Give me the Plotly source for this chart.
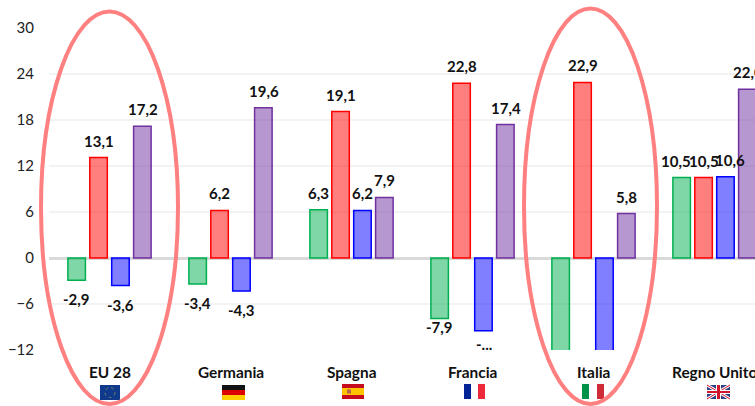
import plotly.graph_objects as go

countries = ["EU 28", "Germania", "Spagna", "Francia", "Italia", "Regno Unito"]
green = [-2.9, -3.4, 6.3, -7.9, -15.0, 10.5]
red = [13.1, 6.2, 19.1, 22.8, 22.9, 10.5]
blue = [-3.6, -4.3, 6.2, -9.5, -14.0, 10.6]
purple = [17.2, 19.6, 7.9, 17.4, 5.8, 22.0]
y_ticks = [-12, -6, 0, 6, 12, 18, 24, 30]

W, H = 755, 406
L, T, R_PX, B_PX = 49, 28, 755, 350
GROUP_PX = 121.0
BAR_STEP = 22 / GROUP_PX


def px(x):
    return (x - L) / (R_PX - L)


def py(y):
    return (B_PX - y) / (B_PX - T)


def label(v):
    return f"{v:.1f}".replace(".", ",")


series = [
    (green, "rgba(0,176,80,0.5)", "#00b050"),
    (red, "rgba(255,0,0,0.5)", "#ff0000"),
    (blue, "rgba(0,0,255,0.5)", "#0000ff"),
    (purple, "rgba(112,48,160,0.5)", "#7030a0"),
]

fig = go.Figure()
annotations = []
for s, (vals, fill, line) in enumerate(series):
    xpos = list(range(len(countries)))
    fig.add_trace(go.Bar(x=xpos, y=vals, marker=dict(color=fill, line=dict(color=line, width=1.5)),
                         hoverinfo="skip", showlegend=False))
    for i, v in enumerate(vals):
        if v < y_ticks[0]:
            continue
        text = label(v)
        dy = -17 if v > 0 else 19
        dx = 0
        if (i, s) == (3, 0):
            dy = 8
        if (i, s) == (3, 2):
            text, dy = "-...", 13
        if (i, s) == (5, 0):
            dx = -6
        if (i, s) == (5, 2):
            dx = 4
        annotations.append(dict(
            x=i + (s - 1.5) * BAR_STEP, y=v, xref="x", yref="y", text=f"<b>{text}</b>", showarrow=False,
            xshift=dx, yshift=-dy, font=dict(family="Lato", size=15, color="#111111"),
            xanchor="center", yanchor="middle"))

for i, c in enumerate(countries):
    annotations.append(dict(x=i, y=py(372), xref="x", yref="paper", text=f"<b>{c}</b>", showarrow=False,
                            font=dict(family="Lato", size=15.4, color="#111111"),
                            xanchor="center", yanchor="middle"))

shapes = []


def rect(x0, y0, x1, y1, color):
    shapes.append(dict(type="rect", xref="paper", yref="paper", x0=px(x0), x1=px(x1), y0=py(y0), y1=py(y1),
                       fillcolor=color, line=dict(width=0), layer="above"))


def seg(x0, y0, x1, y1, color, w):
    shapes.append(dict(type="line", xref="paper", yref="paper", x0=px(x0), x1=px(x1), y0=py(y0), y1=py(y1),
                       line=dict(color=color, width=w), layer="above"))


# flags
rect(100, 385, 120, 400, "#0f3a8c")
shapes.append(dict(type="circle", xref="paper", yref="paper", x0=px(105), x1=px(115), y0=py(387.5), y1=py(397.5),
                   line=dict(color="#6f7f6a", width=1, dash="dot"), layer="above"))
rect(222, 385, 245, 390, "#111111")
rect(222, 390, 245, 395, "#dd0000")
rect(222, 395, 245, 400, "#ffce00")
rect(342, 384, 364, 399, "#c60b1e")
rect(342, 388, 364, 395, "#ffc400")
rect(347, 389.5, 351, 393.5, "#b5654a")
rect(464, 384, 471, 399, "#002395")
rect(478, 384, 485, 399, "#ed2939")
rect(582, 384, 589, 399, "#009246")
rect(597, 384, 604, 399, "#ce2b37")
rect(707, 385, 730, 399, "#2b3f86")
seg(707, 385, 730, 399, "#ffffff", 3)
seg(707, 399, 730, 385, "#ffffff", 3)
seg(707, 385, 730, 399, "#cf142b", 1)
seg(707, 399, 730, 385, "#cf142b", 1)
rect(716, 385, 721, 399, "#ffffff")
rect(707, 390, 730, 394, "#ffffff")
rect(717, 385, 720, 399, "#cf142b")
rect(707, 391, 730, 393, "#cf142b")

# highlight ellipses
for x0, x1, y0, y1 in [(41, 178, 11.5, 404), (524, 657, 8.5, 404)]:
    shapes.append(dict(type="circle", xref="paper", yref="paper", x0=px(x0), x1=px(x1), y0=py(y1), y1=py(y0),
                       line=dict(color="#ff8080", width=4), fillcolor="rgba(0,0,0,0)", layer="above"))

fig.update_layout(
    width=W, height=H, margin=dict(l=L, r=W - R_PX, t=T, b=H - B_PX, pad=0, autoexpand=False),
    paper_bgcolor="white", plot_bgcolor="white", barmode="group", bargap=0.276, bargroupgap=0.2,
    showlegend=False, shapes=shapes, annotations=annotations,
    font=dict(family="Lato", color="#111111"),
    xaxis=dict(range=[-0.5, -0.5 + (R_PX - L) / GROUP_PX], tickmode="array", tickvals=list(range(len(countries))),
               showticklabels=False, showgrid=False, zeroline=False, ticks="", showline=False),
    yaxis=dict(range=[-12, 30], tickmode="array", tickvals=y_ticks, showgrid=True, gridcolor="#f3f3f3", gridwidth=1.5,
               zeroline=True, zerolinecolor="#d9d9d9", zerolinewidth=2.5, ticks="", showline=False,
               tickfont=dict(family="Lato", size=15, color="#222222"), ticklabelstandoff=14),
)

fig.write_html("out.html", config={"displayModeBar": False},
               post_script="document.body.style.margin='0';document.body.style.overflow='hidden';")
